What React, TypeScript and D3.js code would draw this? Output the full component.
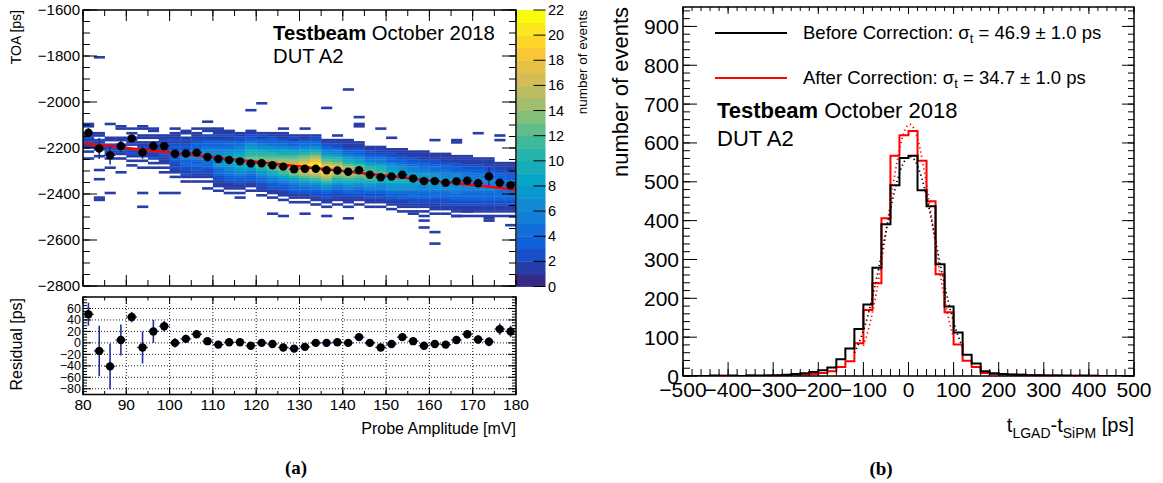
import React from "react";
import * as d3 from "d3";

const SANS = "'Liberation Sans', Arial, Helvetica, sans-serif";
const SERIF = "'Liberation Serif', 'Times New Roman', Times, serif";

// ---------- Panel (a): time of arrival vs probe amplitude ----------
const ampBins = [81.25, 83.75, 86.25, 88.75, 91.25, 93.75, 96.25, 98.75, 101.25, 103.75,
  106.25, 108.75, 111.25, 113.75, 116.25, 118.75, 121.25, 123.75, 126.25, 128.75,
  131.25, 133.75, 136.25, 138.75, 141.25, 143.75, 146.25, 148.75, 151.25, 153.75,
  156.25, 158.75, 161.25, 163.75, 166.25, 168.75, 171.25, 173.75, 176.25, 178.75];

const toaMean = [-2134, -2202, -2232, -2191, -2158, -2219, -2191, -2192, -2225, -2224,
  -2220, -2239, -2248, -2252, -2258, -2267, -2266, -2275, -2281, -2292,
  -2290, -2290, -2297, -2298, -2303, -2297, -2316, -2327, -2324, -2316,
  -2333, -2344, -2344, -2351, -2345, -2342, -2353, -2324, -2351, -2362];
const toaErr = [20, 46, 40, 27, 9, 28, 20, 9, 8, 7, 6, 6, 5, 5, 5, 5, 5, 5, 5, 5,
  5, 5, 5, 5, 5, 5, 6, 6, 6, 6, 6, 6, 6, 6, 6, 7, 7, 40, 10, 10];

const residual = [50, -14, -41, 5, 45, -8, 20, 29, 0, 7, 15, 3, -3, 1, 1, -5, 0, -2, -8, -10,
  -7, 0, 0, 1, 0, 10, 0, -8, -2, 10, 3, -5, -2, -3, 5, 15, 6, 2, 24, 20];
const residualErr = [20, 44, 40, 27, 9, 28, 20, 9, 8, 7, 6, 6, 5, 5, 5, 5, 5, 5, 5, 5,
  5, 5, 5, 5, 5, 5, 6, 6, 6, 6, 6, 6, 6, 6, 6, 7, 7, 8, 10, 10];

// linear fit TOA = p0 + p1 * amplitude
const fitP0 = -2018;
const fitP1 = -2.016;
const fitRange = [80.5, 180];

// 2D histogram: per amplitude column, upper edge of first 10 ps cell and the
// cell counts going downwards (base-36 digits, 0 = empty)
const cellTop = [-2090, -2130, -2090, -2100, -2110, -2100, -2110, -2140, -2110, -2120,
  -2110, -2080, -2110, -2120, -2130, -2030, -2000, -2130, -2130, -2140,
  -2140, -2140, -2160, -2160, -2170, -2170, -2190, -2190, -2200, -2200,
  -2210, -2210, -2220, -2220, -2230, -2230, -2240, -2240, -2260, -2260];
const cellCounts = [
  "1100112121101001",
  "110212110010000010001000000011",
  "1000001102121101000100000000001",
  "110001101212101000001",
  "10102112011210101",
  "110011011212110100100000000001000001",
  "110110121121120101",
  "11211221321110101000000001",
  "10111212323432321211010000001",
  "11012123243453432212101",
  "101112233445454342321101",
  "100110212334556564433221101001",
  "1112123345567876754432211101",
  "1121234456789897665433211101",
  "112234566899a9887654322110101",
  "1000000001122346789abcba987543321101",
  "1000000000000121335679abcdcba976543221101",
  "112334678abcdedcb9875433211010000001",
  "1112345789bcefgedba875432211010000001",
  "121335689bcefhgfdca87543321101",
  "11234578acdfhjkigeca865332110100001",
  "12234679bdfhjlmkifdb97543221101",
  "11234579acegikjhfdb97543221101",
  "11224568abdfhigeca97543221101",
  "111234679acefgedb986543211101",
  "1112335689bcdedca97643321101",
  "112234578abcdcb987543221101",
  "1112345689abcba976543221101",
  "11223356789aba9876543221101",
  "111223456789a998765433211101",
  "111223455678988765443221101",
  "11112334567787765543322110101",
  "111223445678877654432211101",
  "111123345567776654432221101",
  "111223345667766554332211101",
  "111122344556665544332211101",
  "11122334556665544332211101",
  "11112233445565544332211101",
  "111223344555444332211101",
  "111122334455444332211101",
];
// isolated single-entry cells: [amplitude bin centre, upper cell edge]
const strayCells = [
  [83.75, -1800], [136.25, -2020], [136.25, -2490], [141.25, -1940], [143.75, -2060],
  [143.75, -2090], [143.75, -2100], [141.25, -2500], [148.75, -2110], [158.75, -2510],
  [158.75, -2540], [161.25, -2560], [161.25, -2610], [171.25, -2130], [173.75, -2500],
  [173.75, -2510], [176.25, -2140], [176.25, -2160], [178.75, -2530], [131.25, -2110],
  [126.25, -2110], [138.75, -2140], [141.25, -2160], [151.25, -2150], [161.25, -2160],
  [166.25, -2160], [166.25, -2170], [156.25, -2480], [166.25, -2490], [168.75, -2470],
];

const toaTicks = [-2800, -2600, -2400, -2200, -2000, -1800, -1600];
const ampTicks = [80, 90, 100, 110, 120, 130, 140, 150, 160, 170, 180];
const residualTicks = [-80, -60, -40, -20, 0, 20, 40, 60];
const zTicks = [0, 2, 4, 6, 8, 10, 12, 14, 16, 18, 20, 22];
const zMax = 22;

// ---------- Panel (b): time difference distributions ----------
const dtLowEdges = [-500, -480, -460, -440, -420, -400, -380, -360, -340, -320,
  -300, -280, -260, -240, -220, -200, -180, -160, -140, -120,
  -100, -80, -60, -40, -20, 0, 20, 40, 60, 80,
  100, 120, 140, 160, 180, 200, 220, 240, 260, 280,
  300, 320, 340, 360, 380, 400, 420, 440, 460, 480];
const countsBefore = [0, 0, 0, 1, 0, 1, 0, 1, 1, 1,
  2, 3, 5, 7, 10, 15, 22, 43, 71, 121,
  184, 279, 391, 491, 561, 567, 478, 437, 288, 179,
  112, 55, 32, 12, 7, 5, 4, 3, 2, 2,
  1, 1, 1, 0, 1, 0, 0, 0, 0, 0];
const countsAfter = [0, 0, 0, 0, 1, 0, 0, 1, 0, 1,
  1, 2, 3, 4, 5, 8, 12, 23, 38, 84,
  170, 239, 406, 567, 620, 631, 554, 450, 262, 164,
  81, 39, 23, 8, 5, 4, 3, 3, 2, 2,
  1, 1, 0, 1, 0, 1, 0, 0, 0, 0];
const gausBefore = { amp: 565, mean: 3, sigma: 58, from: -120, to: 120 };
const gausAfter = { amp: 648, mean: 3, sigma: 50, from: -100, to: 100 };
const dtTicks = [-500, -400, -300, -200, -100, 0, 100, 200, 300, 400, 500];
const countTicks = [0, 100, 200, 300, 400, 500, 600, 700, 800, 900];

const legendEntries = [
  { color: "#000000", label: "Before Correction: σ", value: " = 46.9 ± 1.0 ps" },
  { color: "#ff0000", label: "After Correction: σ", value: " = 34.7 ± 1.0 ps" },
];

// ROOT kBird palette
const birdStops = [0, 0.125, 0.25, 0.375, 0.5, 0.625, 0.75, 0.875, 1];
const birdColors = ["#352a87", "#0f5cdd", "#1481d6", "#06a4ca", "#2eb7a4", "#87bf77", "#d1bb59", "#fec832", "#f9fb0e"];
const bird = d3.scaleLinear<string>().domain(birdStops).range(birdColors).interpolate(d3.interpolateRgb);
const levelColor = (c: number) => bird(Math.min(c, zMax - 1) / (zMax - 1));

const fmt = (v: number) => (v < 0 ? "\u2212" + Math.abs(v) : String(v));

type TickSpec = { values: number[]; len: number };

function Ticks({ scale, axis, base, dir, major, minor, stroke = 1 }:
  { scale: (v: number) => number; axis: "x" | "y"; base: number; dir: number; major: TickSpec; minor: TickSpec; stroke?: number }) {
  const out: JSX.Element[] = [];
  const add = (v: number, len: number, k: string) => {
    const p = scale(v);
    if (axis === "x") out.push(<line key={k} x1={p} x2={p} y1={base} y2={base + dir * len} stroke="#000" strokeWidth={stroke} />);
    else out.push(<line key={k} y1={p} y2={p} x1={base} x2={base + dir * len} stroke="#000" strokeWidth={stroke} />);
  };
  minor.values.forEach((v, i) => add(v, minor.len, "m" + i));
  major.values.forEach((v, i) => add(v, major.len, "M" + i));
  return <g>{out}</g>;
}

export default function App() {
  // panel (a) geometry
  const xA = d3.scaleLinear().domain([80, 180]).range([83, 516]);
  const yA = d3.scaleLinear().domain([-2800, -1600]).range([286, 10]);
  const yR = d3.scaleLinear().domain([-90, 80]).range([394.5, 297]);
  const zC = d3.scaleLinear().domain([0, zMax]).range([286.5, 10]);
  const cbX0 = 517, cbX1 = 545.5;
  // panel (b) geometry
  const xB = d3.scaleLinear().domain([-500, 500]).range([683, 1134]);
  const yB = d3.scaleLinear().domain([0, 950]).range([376, 7]);

  const halfBin = 1.25;

  // 2D histogram cells
  const cells: JSX.Element[] = [];
  const addCell = (xc: number, top: number, c: number, k: string) => {
    const x0 = xA(xc - halfBin), x1 = xA(xc + halfBin);
    const y0 = yA(top), y1 = yA(top - 10);
    cells.push(<rect key={k} x={x0} y={y0} width={x1 - x0 + 0.3} height={y1 - y0 + 0.3} fill={levelColor(c)} />);
  };
  cellCounts.forEach((col, j) => {
    for (let i = 0; i < col.length; i++) {
      const c = parseInt(col[i], 36);
      if (c > 0) addCell(ampBins[j], cellTop[j] - 10 * i, c, `c${j}_${i}`);
    }
  });
  strayCells.forEach(([xc, top], i) => addCell(xc, top, 1, `s${i}`));

  const fitLine = d3.line<number>().x((a) => xA(a)).y((a) => yA(fitP0 + fitP1 * a));

  const minorRange = (lo: number, hi: number, step: number) => d3.range(lo, hi + step / 2, step);

  const errBlue = "#1f2e9e";

  // histogram outlines
  const stepLine = d3.line<[number, number]>().x((d) => xB(d[0])).y((d) => yB(d[1])).curve(d3.curveStepAfter);
  const histPts = (counts: number[]): [number, number][] => {
    const pts: [number, number][] = dtLowEdges.map((e, i) => [e, counts[i]]);
    pts.push([500, counts[counts.length - 1]]);
    return pts;
  };
  const gausLine = (g: typeof gausBefore) => {
    const xs = d3.range(g.from, g.to + 0.5, 1);
    return d3.line<number>().x((x) => xB(x)).y((x) => yB(g.amp * Math.exp(-0.5 * ((x - g.mean) / g.sigma) ** 2)))(xs) || "";
  };

  return (
    <svg width={1163} height={483} style={{ position: "absolute", left: 0, top: 0, background: "#fff" }} fontFamily={SANS}>
      <defs>
        <clipPath id="clipA"><rect x={83} y={10} width={433} height={276} /></clipPath>
        <clipPath id="clipB"><rect x={683} y={7} width={451} height={369} /></clipPath>
      </defs>

      {/* ===== panel (a), upper pad ===== */}
      <g clipPath="url(#clipA)">
        {cells}
        <path d={fitLine([fitRange[0], fitRange[1]]) || ""} stroke="#ff0000" strokeWidth={2.5} fill="none" />
        {ampBins.map((a, i) => (
          <g key={"p" + i}>
            <line x1={xA(a)} x2={xA(a)} y1={yA(toaMean[i] + toaErr[i])} y2={yA(toaMean[i] - toaErr[i])} stroke={errBlue} strokeWidth={1.6} />
            <line x1={xA(a - halfBin)} x2={xA(a + halfBin)} y1={yA(toaMean[i])} y2={yA(toaMean[i])} stroke={errBlue} strokeWidth={1.2} />
            <circle cx={xA(a)} cy={yA(toaMean[i])} r={4.2} fill="#000" />
          </g>
        ))}
      </g>
      <Ticks scale={yA} axis="y" base={83} dir={1}
        major={{ values: toaTicks, len: 14 }} minor={{ values: minorRange(-2800, -1600, 50), len: 7 }} />
      <Ticks scale={yA} axis="y" base={516} dir={-1}
        major={{ values: toaTicks, len: 14 }} minor={{ values: minorRange(-2800, -1600, 50), len: 7 }} />
      <Ticks scale={xA} axis="x" base={286} dir={-1}
        major={{ values: ampTicks, len: 11 }} minor={{ values: minorRange(80, 180, 5), len: 6 }} />
      <Ticks scale={xA} axis="x" base={10} dir={1}
        major={{ values: ampTicks, len: 11 }} minor={{ values: minorRange(80, 180, 5), len: 6 }} />
      <rect x={83} y={10} width={433} height={276} fill="none" stroke="#000" strokeWidth={1.5} />
      {toaTicks.map((t) => (
        <text key={"ty" + t} x={80} y={yA(t) + 5.3} fontSize={15} textAnchor="end">{fmt(t)}</text>
      ))}
      <text transform="translate(21,10) rotate(-90)" fontSize={14} textAnchor="end">TOA [ps]</text>
      <text x={273} y={40} fontSize={20.3}>
        <tspan fontWeight="bold">Testbeam</tspan> October 2018
      </text>
      <text x={273} y={63} fontSize={20.3}>DUT A2</text>

      {/* colour scale */}
      {d3.range(0, zMax).map((i) => (
        <rect key={"cb" + i} x={cbX0} y={zC(i + 1)} width={cbX1 - cbX0} height={zC(i) - zC(i + 1) + 0.4} fill={levelColor(i)} />
      ))}
      <Ticks scale={zC} axis="y" base={cbX1} dir={-1} major={{ values: zTicks, len: 12 }} minor={{ values: [], len: 0 }} />
      {zTicks.map((t) => (
        <text key={"z" + t} x={548} y={zC(t) + 5} fontSize={14.5}>{t}</text>
      ))}
      <text transform="translate(587,10) rotate(-90)" fontSize={13.5} textAnchor="end">number of events</text>

      {/* ===== panel (a), residual pad ===== */}
      {ampTicks.slice(1, -1).map((t) => (
        <line key={"gx" + t} x1={xA(t)} x2={xA(t)} y1={297} y2={394.5} stroke="#000" strokeWidth={0.9} strokeDasharray="1 2" />
      ))}
      {residualTicks.map((t) => (
        <line key={"gy" + t} x1={83} x2={516} y1={yR(t)} y2={yR(t)} stroke="#000" strokeWidth={0.9} strokeDasharray="1 2" />
      ))}
      <Ticks scale={yR} axis="y" base={83} dir={1}
        major={{ values: residualTicks, len: 8 }} minor={{ values: minorRange(-90, 80, 5), len: 4 }} />
      <Ticks scale={yR} axis="y" base={516} dir={-1}
        major={{ values: residualTicks, len: 8 }} minor={{ values: minorRange(-90, 80, 5), len: 4 }} />
      <Ticks scale={xA} axis="x" base={394.5} dir={-1}
        major={{ values: ampTicks, len: 7 }} minor={{ values: minorRange(80, 180, 5), len: 3.5 }} />
      <Ticks scale={xA} axis="x" base={297} dir={1}
        major={{ values: ampTicks, len: 7 }} minor={{ values: minorRange(80, 180, 5), len: 3.5 }} />
      {ampBins.map((a, i) => (
        <g key={"r" + i}>
          <line x1={xA(a)} x2={xA(a)} y1={yR(Math.min(80, residual[i] + residualErr[i]))} y2={yR(Math.max(-90, residual[i] - residualErr[i]))} stroke={errBlue} strokeWidth={1.6} />
          <line x1={xA(a - halfBin)} x2={xA(a + halfBin)} y1={yR(residual[i])} y2={yR(residual[i])} stroke={errBlue} strokeWidth={1.2} />
          <circle cx={xA(a)} cy={yR(residual[i])} r={4.2} fill="#000" />
        </g>
      ))}
      <rect x={83} y={297} width={433} height={97.5} fill="none" stroke="#000" strokeWidth={1.5} />
      {residualTicks.map((t) => (
        <text key={"ry" + t} x={81} y={yR(t) + 4.4} fontSize={12.5} textAnchor="end">{fmt(t)}</text>
      ))}
      {ampTicks.map((t) => (
        <text key={"ax" + t} x={xA(t)} y={410} fontSize={15.5} textAnchor="middle">{t}</text>
      ))}
      <text transform="translate(22,298) rotate(-90)" fontSize={16} textAnchor="end">Residual [ps]</text>
      <text x={516} y={434} fontSize={16} textAnchor="end">Probe Amplitude [mV]</text>
      <text x={296} y={474} fontSize={19} fontWeight="bold" fontFamily={SERIF} textAnchor="middle">(a)</text>

      {/* ===== panel (b) ===== */}
      <g clipPath="url(#clipB)">
        <path d={stepLine(histPts(countsAfter)) || ""} stroke="#ff0000" strokeWidth={2} fill="none" />
        <path d={stepLine(histPts(countsBefore)) || ""} stroke="#000" strokeWidth={2} fill="none" />
        <path d={gausLine(gausAfter)} stroke="#ff0000" strokeWidth={1.7} fill="none" strokeDasharray="1.3 3" />
        <path d={gausLine(gausBefore)} stroke="#000" strokeWidth={1.7} fill="none" strokeDasharray="1.3 3" />
      </g>
      <Ticks scale={yB} axis="y" base={683} dir={1}
        major={{ values: countTicks, len: 14 }} minor={{ values: minorRange(0, 940, 20), len: 7 }} />
      <Ticks scale={yB} axis="y" base={1134} dir={-1}
        major={{ values: countTicks, len: 12 }} minor={{ values: minorRange(0, 940, 20), len: 6 }} />
      <Ticks scale={xB} axis="x" base={376} dir={-1}
        major={{ values: dtTicks, len: 14 }} minor={{ values: minorRange(-500, 500, 20), len: 7 }} />
      <Ticks scale={xB} axis="x" base={7} dir={1}
        major={{ values: dtTicks, len: 7 }} minor={{ values: minorRange(-500, 500, 20), len: 4 }} />
      <rect x={683} y={7} width={451} height={369} fill="none" stroke="#000" strokeWidth={1.5} />
      {countTicks.map((t) => (
        <text key={"by" + t} x={679} y={yB(t) + 7.5} fontSize={21} textAnchor="end">{t}</text>
      ))}
      {dtTicks.map((t) => (
        <text key={"bx" + t} x={xB(t)} y={397} fontSize={21} textAnchor="middle">{fmt(t)}</text>
      ))}
      <text transform="translate(628,7) rotate(-90)" fontSize={22} textAnchor="end">number of events</text>
      <text x={1134} y={432} fontSize={20} textAnchor="end">
        t<tspan fontSize={14} dy={6}>LGAD</tspan><tspan dy={-6}>-t</tspan><tspan fontSize={14} dy={6}>SiPM</tspan><tspan dy={-6}> [ps]</tspan>
      </text>
      {legendEntries.map((e, i) => (
        <g key={"lg" + i}>
          <line x1={715} x2={787} y1={33 + 45 * i} y2={33 + 45 * i} stroke={e.color} strokeWidth={2} />
          <text x={803} y={39 + 45 * i} fontSize={18.5}>
            {e.label}<tspan fontSize={13} dy={4}>t</tspan><tspan dy={-4}>{e.value}</tspan>
          </text>
        </g>
      ))}
      <text x={717} y={118} fontSize={22}>
        <tspan fontWeight="bold">Testbeam</tspan> October 2018
      </text>
      <text x={717} y={146} fontSize={22}>DUT A2</text>
      <text x={881} y={475} fontSize={19} fontWeight="bold" fontFamily={SERIF} textAnchor="middle">(b)</text>
    </svg>
  );
}
